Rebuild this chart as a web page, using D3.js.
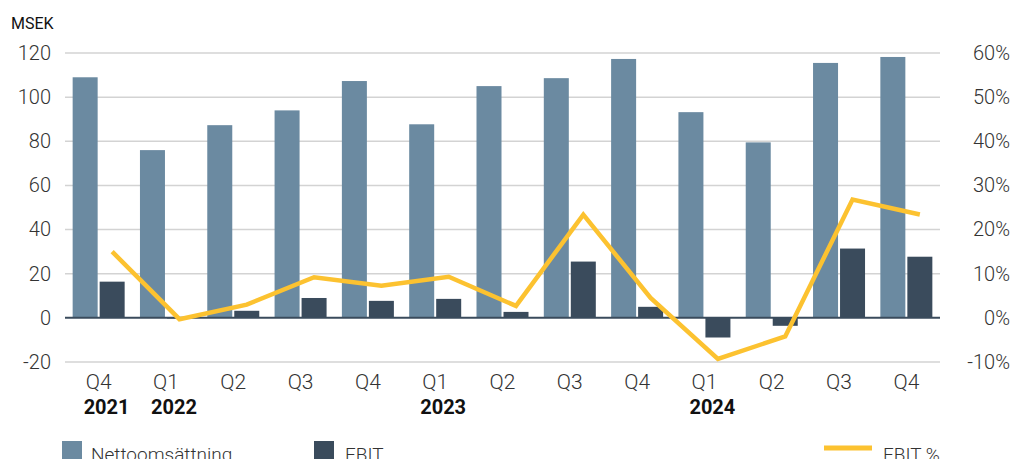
<!DOCTYPE html>
<html>
<head>
<meta charset="utf-8">
<script src="https://cdn.jsdelivr.net/npm/d3@7"></script>
<style>
  body { margin: 0; background: #fff; }
  svg text { font-family: Roboto, 'Noto Sans', sans-serif; }
</style>
</head>
<body>
<svg id="chart" width="1011" height="459"></svg>
<script>
const quarters = ['Q4', 'Q1', 'Q2', 'Q3', 'Q4', 'Q1', 'Q2', 'Q3', 'Q4', 'Q1', 'Q2', 'Q3', 'Q4']
const years = ['2021', '2022', '', '', '', '2023', '', '', '', '2024', '', '', '']
const netSales = [109, 76, 87.3, 94, 107.3, 87.7, 105, 108.6, 117.3, 93.2, 79.5, 115.5, 118.2]
const ebit = [16.4, -0.3, 3.2, 9, 7.7, 8.6, 2.7, 25.5, 5, -8.9, -3.6, 31.4, 27.7]
const ebitPct = [15, -0.3, 3, 9.2, 7.3, 9.3, 2.7, 23.4, 4.5, -9.3, -4.2, 26.8, 23.4]
const leftTicks = [-20, 0, 20, 40, 60, 80, 100, 120]
const rightTicks = [-10, 0, 10, 20, 30, 40, 50, 60]

const colors = { sales: '#6b8aa1', ebit: '#3a4b5c', pct: '#fcc230', grid: '#d3d3d3' }

const svg = d3.select('#chart')
const margin = { left: 65, right: 940, top: 53, bottom: 362 }

const x = d3.scaleBand().domain(d3.range(quarters.length)).range([margin.left, margin.right])
const y = d3.scaleLinear().domain([-20, 120]).range([margin.bottom, margin.top])
const y2 = d3.scaleLinear().domain([-10, 60]).range([margin.bottom, margin.top])

const barW = 25
const gap = 2

// gridlines
svg.append('g')
  .selectAll('line')
  .data(leftTicks.filter(d => d !== 0))
  .join('line')
  .attr('x1', margin.left).attr('x2', margin.right)
  .attr('y1', d => y(d)).attr('y2', d => y(d))
  .attr('stroke', colors.grid).attr('stroke-width', 1.5)

// left axis
const leftAxis = svg.append('g')
  .attr('transform', 'translate(51,0)')
  .call(d3.axisLeft(y).tickValues(leftTicks).tickSize(0).tickPadding(0).tickFormat(d => d))
leftAxis.select('.domain').remove()
leftAxis.selectAll('text').attr('font-size', 20).attr('font-weight', 300).attr('fill', '#333')

// right axis
const rightAxis = svg.append('g')
  .attr('transform', 'translate(1010,0)')
  .call(d3.axisLeft(y2).tickValues(rightTicks).tickSize(0).tickPadding(0).tickFormat(d => d + '%'))
rightAxis.select('.domain').remove()
rightAxis.selectAll('text').attr('font-size', 20).attr('font-weight', 300).attr('fill', '#333')

svg.append('text')
  .attr('x', 11).attr('y', 29)
  .attr('font-size', 16).attr('font-weight', 400).attr('fill', '#111')
  .text('MSEK')

const center = i => x(i) + x.bandwidth() / 2

// bars
svg.append('g')
  .selectAll('rect')
  .data(netSales)
  .join('rect')
  .attr('x', (d, i) => center(i) - barW - gap / 2)
  .attr('width', barW)
  .attr('y', d => y(Math.max(0, d)))
  .attr('height', d => Math.abs(y(d) - y(0)))
  .attr('fill', colors.sales)

svg.append('g')
  .selectAll('rect')
  .data(ebit)
  .join('rect')
  .attr('x', (d, i) => center(i) + gap / 2)
  .attr('width', barW)
  .attr('y', d => y(Math.max(0, d)))
  .attr('height', d => Math.abs(y(d) - y(0)))
  .attr('fill', colors.ebit)

// zero line
svg.append('line')
  .attr('x1', margin.left).attr('x2', margin.right)
  .attr('y1', y(0)).attr('y2', y(0))
  .attr('stroke', colors.ebit).attr('stroke-width', 2)

// EBIT % line
const line = d3.line()
  .x((d, i) => center(i) + gap / 2 + barW / 2)
  .y(d => y2(d))
svg.append('path')
  .datum(ebitPct)
  .attr('d', line)
  .attr('fill', 'none')
  .attr('stroke', colors.pct)
  .attr('stroke-width', 4.5)
  .attr('stroke-linejoin', 'miter')

// x labels
const xl = svg.append('g')
xl.selectAll('text.q')
  .data(quarters)
  .join('text')
  .attr('class', 'q')
  .attr('x', (d, i) => center(i))
  .attr('y', 389)
  .attr('text-anchor', 'middle')
  .attr('font-size', 21).attr('font-weight', 300).attr('fill', '#333')
  .text(d => d)
xl.selectAll('text.yr')
  .data(years)
  .join('text')
  .attr('class', 'yr')
  .attr('x', (d, i) => center(i) - 15)
  .attr('y', 414)
  .attr('font-size', 20).attr('font-weight', 700).attr('fill', '#111')
  .text(d => d)

// legend
const lg = svg.append('g')
lg.append('rect').attr('x', 62).attr('y', 441).attr('width', 20).attr('height', 20).attr('fill', colors.sales)
lg.append('text').attr('x', 91).attr('y', 461).attr('font-size', 19).attr('font-weight', 300).attr('fill', '#333').text('Nettoomsättning')
lg.append('rect').attr('x', 314).attr('y', 441).attr('width', 20).attr('height', 20).attr('fill', colors.ebit)
lg.append('text').attr('x', 345).attr('y', 461).attr('font-size', 19).attr('font-weight', 300).attr('fill', '#333').text('EBIT')
lg.append('line').attr('x1', 824).attr('x2', 872).attr('y1', 448).attr('y2', 448).attr('stroke', colors.pct).attr('stroke-width', 5)
lg.append('text').attr('x', 883).attr('y', 461).attr('font-size', 19).attr('font-weight', 300).attr('fill', '#333').text('EBIT %')
</script>
</body>
</html>
